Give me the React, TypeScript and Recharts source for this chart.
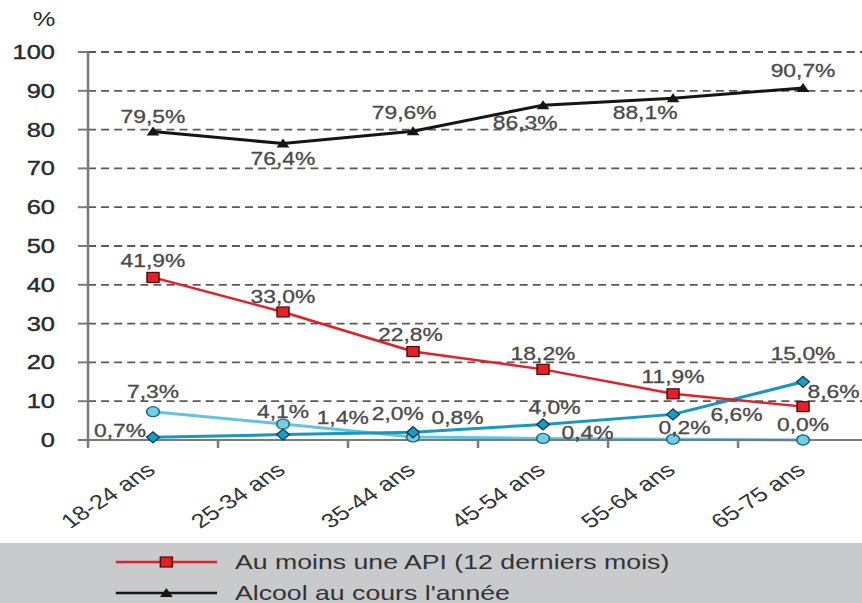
import React from 'react';
import { LineChart, Line, XAxis, YAxis, CartesianGrid, Legend, LabelList } from 'recharts';

const categories = ['18-24 ans', '25-34 ans', '35-44 ans', '45-54 ans', '55-64 ans', '65-75 ans'];
const apiValues = [41.9, 33.0, 22.8, 18.2, 11.9, 8.6];
const alcoolValues = [79.5, 76.4, 79.6, 86.3, 88.1, 90.7];
const diamondValues = [0.7, 1.4, 2.0, 4.0, 6.6, 15.0];
const circleValues = [7.3, 4.1, 0.8, 0.4, 0.2, 0.0];
const yTicks = [0, 10, 20, 30, 40, 50, 60, 70, 80, 90, 100];
const xTicks = [0, 0.5, 1, 1.5, 2, 2.5, 3, 3.5, 4, 4.5, 5, 5.5, 6];
const legendApi = 'Au moins une API (12 derniers mois)';
const legendAlcool = "Alcool au cours l'année";

// label placement offsets (dx, dy) per point
const alcoolLabelPos = [[0, -15], [0, 15], [-7, -19], [-14, 17], [-22, 14], [0, -18]];
const apiLabelPos = [[0, -17], [0, -16], [-2, -17], [0, -16], [0, -17], [24, -15]];
const diamondLabelPos = [[-26, -7], [47, -17], [-12, -19], [9, -17], [50, 0], [0, -28]];
const circleLabelPos = [[0, -20], [0, -13], [35, -19], [35, -6], [9, -12], [0, -16]];

const data = categories.map((name, i) => ({
  name,
  pos: i + 0.5,
  api: apiValues[i],
  alcool: alcoolValues[i],
  diamond: diamondValues[i],
  circle: circleValues[i],
}));

const FONT = '"Liberation Sans", Arial, Helvetica, sans-serif';
const SCALE_X = 1.27;
const W = 685;
const H = 603;

const RED = '#e3212a';
const BLACK = '#151515';
const TEAL = '#1798c0';
const LIGHT = '#62c4e0';

const fmt = (v: number) => v.toFixed(1).replace('.', ',') + '%';

const makeLabel = (offsets: number[][]) => (props: any) => {
  const vb = props.viewBox || {};
  const px = props.x ?? vb.x;
  const py = props.y ?? vb.y;
  const i = props.index ?? 0;
  const [dx, dy] = offsets[i] || [0, -15];
  if (px == null || py == null) return null;
  return (
    <text
      x={px + dx}
      y={py + dy}
      textAnchor="middle"
      dominantBaseline="central"
      fontSize={18}
      fontFamily={FONT}
      fill="#4a4a4a"
      stroke="#4a4a4a"
      strokeWidth={0.3}
    >
      {fmt(Number(props.value))}
    </text>
  );
};

const SquareDot = (props: any) => {
  const { cx, cy, index } = props;
  if (cx == null || cy == null) return null;
  return <rect key={`sq-${index}`} x={cx - 4.7} y={cy - 5} width={9.4} height={10} fill={RED} stroke="#5a0808" strokeWidth={1.2} />;
};

const TriangleDot = (props: any) => {
  const { cx, cy, index } = props;
  if (cx == null || cy == null) return null;
  return <polygon key={`tr-${index}`} points={`${cx - 5},${cy + 4} ${cx + 5},${cy + 4} ${cx},${cy - 5}`} fill={BLACK} />;
};

const DiamondDot = (props: any) => {
  const { cx, cy, index } = props;
  if (cx == null || cy == null) return null;
  return (
    <polygon
      key={`di-${index}`}
      points={`${cx},${cy - 5.5} ${cx + 5},${cy} ${cx},${cy + 5.5} ${cx - 5},${cy}`}
      fill="#1a9cc4"
      stroke="#0b4257"
      strokeWidth={1.2}
    />
  );
};

const CircleDot = (props: any) => {
  const { cx, cy, index } = props;
  if (cx == null || cy == null) return null;
  return <circle key={`ci-${index}`} cx={cx} cy={cy} r={5} fill="#72cde6" stroke="#1f6a80" strokeWidth={1.3} />;
};

const XTick = (props: any) => {
  const { x, payload } = props;
  const v = payload.value;
  if (Number.isInteger(v)) {
    return <line x1={x} x2={x} y1={440} y2={448} stroke="#7a7a7a" strokeWidth={2} />;
  }
  const label = categories[Math.floor(v)];
  return (
    <text
      transform={`translate(${x + 3},${472}) rotate(-40)`}
      textAnchor="end"
      fontSize={20}
      fontFamily={FONT}
      fill="#333"
    >
      {label}
    </text>
  );
};

const GridLine = (p: any) => (
  <line
    key={p.key}
    x1={p.x1}
    y1={p.y1}
    x2={p.x2}
    y2={p.y2}
    stroke="#5a5a5a"
    strokeWidth={1.8}
    strokeDasharray="6.3 4"
  />
);

const LegendRow = ({ color, marker, text }: { color: string; marker: string; text: string }) => (
  <div style={{ display: 'flex', alignItems: 'center', height: 31 }}>
    <svg width={80} height={20} style={{ marginLeft: 91, flex: 'none' }}>
      <line x1={0} x2={80} y1={10} y2={10} stroke={color} strokeWidth={2.5} />
      {marker === 'square' ? (
        <rect x={35.3} y={5} width={9.4} height={10} fill={RED} stroke="#5a0808" strokeWidth={1.2} />
      ) : (
        <polygon points="35,14 45,14 40,5" fill={BLACK} />
      )}
    </svg>
    <span style={{ marginLeft: 14, whiteSpace: 'nowrap' }}>{text}</span>
  </div>
);

const LegendBox = () => (
  <div
    style={{
      width: W,
      height: 60,
      boxSizing: 'border-box',
      paddingTop: 3,
      background: '#c9cacc',
      fontFamily: FONT,
      fontSize: 21,
      color: '#333',
      lineHeight: '31px',
    }}
  >
    <LegendRow color={RED} marker="square" text={legendApi} />
    <LegendRow color={BLACK} marker="triangle" text={legendAlcool} />
  </div>
);

export default function App() {
  return (
    <div style={{ position: 'fixed', left: 0, top: 0, width: 862, height: 603, overflow: 'hidden', background: '#fff' }}>
      <div style={{ width: W, height: H, transform: `scaleX(${SCALE_X})`, transformOrigin: '0 0' }}>
        <LineChart width={W} height={H} data={data} margin={{ top: 52, right: 1.5, left: 0, bottom: 0 }}>
          <CartesianGrid vertical={false} horizontal={GridLine} stroke="#5a5a5a" strokeDasharray="6.3 4" />
          <XAxis
            type="number"
            dataKey="pos"
            domain={[0, 6]}
            ticks={xTicks}
            interval={0}
            height={103}
            tickLine={false}
            tickSize={0}
            axisLine={{ stroke: '#7a7a7a', strokeWidth: 2 }}
            tick={<XTick />}
          />
          <YAxis
            type="number"
            domain={[0, 100]}
            ticks={yTicks}
            interval={0}
            width={69.3}
            tickSize={8}
            tickMargin={18}
            axisLine={{ stroke: '#7a7a7a', strokeWidth: 2 }}
            tickLine={{ stroke: '#7a7a7a', strokeWidth: 2 }}
            tick={{ fontSize: 20, fill: '#2a2a2a', fontFamily: FONT, stroke: '#2a2a2a', strokeWidth: 0.4 }}
            label={{ value: '%', position: 'top', offset: 26, fontSize: 20, fill: '#2a2a2a', fontFamily: FONT }}
          />
          <Legend verticalAlign="bottom" content={() => <LegendBox />} wrapperStyle={{ left: 0, bottom: 0, width: W }} />
          <Line dataKey="circle" stroke={LIGHT} strokeWidth={3} dot={<CircleDot />} isAnimationActive={false}>
            <LabelList dataKey="circle" content={makeLabel(circleLabelPos)} />
          </Line>
          <Line dataKey="diamond" stroke={TEAL} strokeWidth={3} dot={<DiamondDot />} isAnimationActive={false}>
            <LabelList dataKey="diamond" content={makeLabel(diamondLabelPos)} />
          </Line>
          <Line dataKey="api" name={legendApi} stroke={RED} strokeWidth={2.5} dot={<SquareDot />} isAnimationActive={false}>
            <LabelList dataKey="api" content={makeLabel(apiLabelPos)} />
          </Line>
          <Line dataKey="alcool" name={legendAlcool} stroke={BLACK} strokeWidth={3} dot={<TriangleDot />} isAnimationActive={false}>
            <LabelList dataKey="alcool" content={makeLabel(alcoolLabelPos)} />
          </Line>
        </LineChart>
      </div>
    </div>
  );
}
